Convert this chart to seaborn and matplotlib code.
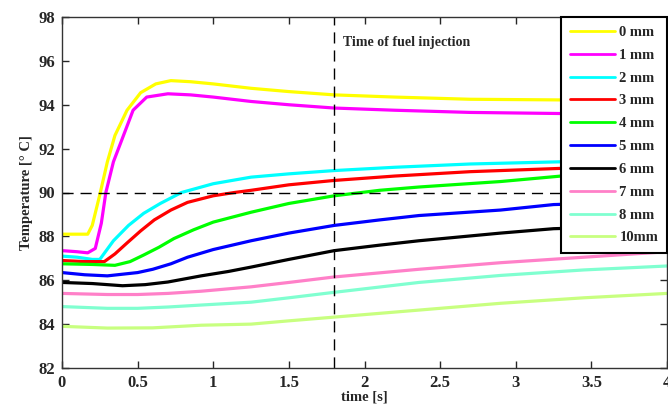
import matplotlib
matplotlib.use("Agg")
import matplotlib.pyplot as plt
import seaborn as sns
import pandas as pd

labels = ["0 mm", "1 mm", "2 mm", "3 mm", "4 mm", "5 mm", "6 mm", "7 mm", "8 mm", "10mm"]
colors = ["#FFFF00", "#FF00FF", "#00FFFF", "#FF0000", "#00FF00", "#0000FF", "#000000",
          "#FF80C8", "#80FFD0", "#C8FF80"]

t_0mm = [0, 0.1, 0.17, 0.2, 0.25, 0.3, 0.35, 0.43, 0.52, 0.62, 0.72, 0.85, 1.0, 1.25, 1.5, 1.8, 2.2, 2.7, 3.3, 4.0]
T_0mm = [88.1, 88.1, 88.1, 88.5, 89.9, 91.4, 92.6, 93.75, 94.55, 94.95, 95.1, 95.05, 94.95, 94.75, 94.6, 94.45, 94.35, 94.25, 94.22, 94.2]

t_1mm = [0, 0.1, 0.17, 0.22, 0.26, 0.29, 0.34, 0.39, 0.47, 0.56, 0.7, 0.85, 1.0, 1.25, 1.5, 1.8, 2.2, 2.7, 3.3, 4.0]
T_1mm = [87.35, 87.3, 87.25, 87.45, 88.6, 90.0, 91.4, 92.3, 93.75, 94.35, 94.5, 94.45, 94.35, 94.15, 94.0, 93.85, 93.75, 93.65, 93.6, 93.6]

t_2mm = [0, 0.1, 0.2, 0.25, 0.34, 0.44, 0.54, 0.65, 0.79, 1.0, 1.25, 1.5, 1.8, 2.2, 2.7, 3.3, 4.0]
T_2mm = [87.1, 87.05, 86.95, 86.95, 87.8, 88.5, 89.05, 89.5, 90.0, 90.4, 90.7, 90.85, 91.0, 91.15, 91.3, 91.4, 91.45]

t_3mm = [0, 0.15, 0.28, 0.35, 0.43, 0.52, 0.61, 0.72, 0.83, 1.0, 1.14, 1.25, 1.5, 1.8, 2.2, 2.7, 3.3, 4.0]
T_3mm = [86.9, 86.85, 86.85, 87.2, 87.7, 88.25, 88.75, 89.2, 89.55, 89.85, 90.0, 90.1, 90.35, 90.55, 90.75, 90.95, 91.1, 91.2]

t_4mm = [0, 0.2, 0.35, 0.45, 0.54, 0.64, 0.74, 0.87, 1.0, 1.25, 1.5, 1.8, 2.1, 2.36, 2.9, 3.3, 4.0]
T_4mm = [86.75, 86.72, 86.68, 86.85, 87.15, 87.5, 87.9, 88.3, 88.65, 89.1, 89.5, 89.85, 90.1, 90.25, 90.5, 90.75, 90.95]

t_5mm = [0, 0.15, 0.3, 0.5, 0.6, 0.72, 0.83, 1.0, 1.25, 1.5, 1.8, 2.1, 2.36, 2.9, 3.25, 4.0]
T_5mm = [86.35, 86.25, 86.2, 86.35, 86.5, 86.75, 87.05, 87.4, 87.8, 88.15, 88.5, 88.75, 88.95, 89.2, 89.45, 89.6]

t_6mm = [0, 0.2, 0.4, 0.55, 0.7, 0.92, 1.1, 1.25, 1.5, 1.8, 2.1, 2.36, 2.9, 3.25, 4.0]
T_6mm = [85.9, 85.85, 85.75, 85.8, 85.92, 86.2, 86.4, 86.6, 86.95, 87.35, 87.6, 87.8, 88.15, 88.35, 88.5]

t_7mm = [0, 0.3, 0.5, 0.7, 0.92, 1.25, 1.5, 1.8, 2.36, 2.9, 3.45, 4.0]
T_7mm = [85.4, 85.35, 85.35, 85.4, 85.5, 85.7, 85.9, 86.15, 86.5, 86.8, 87.05, 87.3]

t_8mm = [0, 0.3, 0.5, 0.7, 0.92, 1.25, 1.5, 1.8, 2.36, 2.9, 3.45, 4.0]
T_8mm = [84.8, 84.72, 84.72, 84.78, 84.87, 85.0, 85.2, 85.45, 85.9, 86.22, 86.47, 86.65]

t_10mm = [0, 0.3, 0.6, 0.92, 1.25, 1.5, 1.8, 2.36, 2.9, 3.45, 4.0]
T_10mm = [83.9, 83.82, 83.83, 83.95, 84.0, 84.15, 84.32, 84.64, 84.95, 85.2, 85.4]

injection_time = 1.8
ref_temp = 90
x_ticks = [0, 0.5, 1, 1.5, 2, 2.5, 3, 3.5, 4]
x_tick_labels = ["0", "0.5", "1", "1.5", "2", "2.5", "3", "3.5", "4"]
y_ticks = [82, 84, 86, 88, 90, 92, 94, 96, 98]

series_t = [t_0mm, t_1mm, t_2mm, t_3mm, t_4mm, t_5mm, t_6mm, t_7mm, t_8mm, t_10mm]
series_T = [T_0mm, T_1mm, T_2mm, T_3mm, T_4mm, T_5mm, T_6mm, T_7mm, T_8mm, T_10mm]

rows = []
for lab, ts, Ts in zip(labels, series_t, series_T):
    for a, b in zip(ts, Ts):
        rows.append({"time": a, "temp": b, "dist": lab})
df = pd.DataFrame(rows)

sns.set_theme(style="ticks")
plt.rcParams["font.family"] = ["Liberation Serif", "DejaVu Serif"]
plt.rcParams["font.weight"] = "bold"

fig = plt.figure(figsize=(6.68, 4.12), dpi=100)
ax = fig.add_axes([62 / 668, 1 - 368 / 412, (667 - 62) / 668, (368 - 17) / 412])

sns.lineplot(data=df, x="time", y="temp", hue="dist", hue_order=labels,
             palette=dict(zip(labels, colors)), estimator=None, sort=True,
             linewidth=2.3, ax=ax)

ax.axvline(injection_time, color="black", linestyle=(0, (8, 5)), linewidth=1)
ax.axhline(ref_temp, color="black", linestyle=(0, (8, 5)), linewidth=1)
ax.text(1.86, 96.85, "Time of fuel injection", fontsize=10, fontweight="bold",
        va="center", ha="left")

ax.set_xlim(0, 4)
ax.set_ylim(82, 98)
ax.set_xticks(x_ticks)
ax.set_xticklabels(x_tick_labels)
ax.set_yticks(y_ticks)
ax.tick_params(direction="in", top=True, right=True, length=5, width=1,
               labelsize=12, pad=5)
for lbl in ax.get_xticklabels() + ax.get_yticklabels():
    lbl.set_fontweight("bold")
for s in ax.spines.values():
    s.set_linewidth(1)
    s.set_color("#333333")

ax.set_xlabel("time [s]", fontsize=10.5, fontweight="bold", labelpad=0)
ax.set_ylabel("Temperature [° C]", fontsize=10.5, fontweight="bold", labelpad=4)

leg = ax.legend(loc="upper right", bbox_to_anchor=(1.0, 1.0), borderaxespad=0,
                frameon=True, fancybox=False, fontsize=10.5, handlelength=3.1,
                labelspacing=0.66, handletextpad=0.3, borderpad=0.6)
leg.get_frame().set_edgecolor("black")
leg.get_frame().set_linewidth(1.5)
leg.get_frame().set_alpha(1)
for txt in leg.get_texts():
    txt.set_fontweight("bold")
for ln in leg.get_lines():
    ln.set_linewidth(2.0)

fig.savefig("out.png", dpi=100)
